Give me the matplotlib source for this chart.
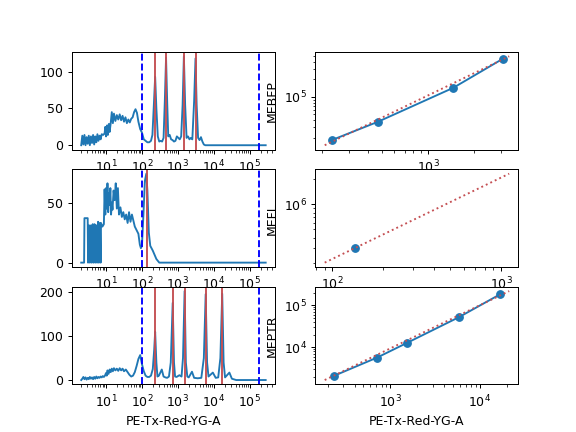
import numpy as np
import matplotlib
matplotlib.use("Agg")
import matplotlib.pyplot as plt

channel = "PE-Tx-Red-YG-A"
mef_names = ["MEBFP", "MEFL", "MEPTR"]

# gate limits (blue dashed)
gate_lo = 100
gate_hi = 1.8e5

# histogram 1 (MEBFP beads): log10 position, counts
h1_logx = [0.31, 0.34, 0.37, 0.40, 0.43, 0.46, 0.49, 0.52, 0.55, 0.58, 0.61, 0.64,
           0.67, 0.70, 0.73, 0.76, 0.79, 0.82, 0.85, 0.88, 0.92, 0.96, 0.98, 1.00,
           1.03, 1.05, 1.08, 1.10, 1.13, 1.16, 1.19, 1.22, 1.26, 1.30, 1.34, 1.38,
           1.42, 1.46, 1.50, 1.54, 1.58, 1.62, 1.66, 1.70, 1.74, 1.78, 1.82, 1.86,
           1.90, 1.95, 2.00, 2.05, 2.10, 2.15, 2.20, 2.25, 2.29, 2.33, 2.366, 2.40,
           2.44, 2.48, 2.52, 2.56, 2.60, 2.635, 2.669, 2.70, 2.73, 2.77, 2.81, 2.85,
           2.89, 2.93, 2.97, 3.01, 3.05, 3.09, 3.13, 3.165, 3.20, 3.24, 3.28, 3.32,
           3.36, 3.40, 3.45, 3.488, 3.52, 3.56, 3.60, 3.64, 3.68, 3.72, 3.76, 4.0,
           4.5, 5.0, 5.44]
h1_counts = [0, 13, 1, 14, 0, 11, 2, 13, 0, 12, 3, 14,
             1, 12, 4, 15, 6, 13, 8, 15, 14, 16, 25, 12,
             27, 14, 29, 18, 30, 45, 30, 43, 33, 41, 35, 42,
             34, 40, 32, 38, 30, 35, 31, 36, 38, 45, 49, 44,
             32, 22, 17, 8, 6, 4, 4, 6, 14, 55, 93, 50,
             12, 5, 6, 5, 10, 60, 119, 60, 12, 14, 8, 7,
             5, 6, 12, 10, 8, 12, 55, 121, 55, 10, 12, 8,
             10, 8, 60, 118, 55, 10, 7, 11, 5, 1, 0, 0,
             0, 0, 0]

# histogram 2 (MEFL beads)
h2_logx = [0.31, 0.39, 0.40, 0.49, 0.50, 0.53, 0.55, 0.58, 0.60, 0.63, 0.65, 0.68,
           0.70, 0.73, 0.75, 0.78, 0.80, 0.83, 0.85, 0.86, 0.90, 0.94, 0.96, 0.98,
           1.00, 1.02, 1.04, 1.06, 1.08, 1.10, 1.12, 1.14, 1.16, 1.18, 1.21, 1.24,
           1.27, 1.30, 1.33, 1.36, 1.40, 1.44, 1.48, 1.52, 1.56, 1.60, 1.64, 1.68,
           1.72, 1.76, 1.80, 1.85, 1.90, 1.94, 1.97, 2.00, 2.04, 2.08, 2.12, 2.15,
           2.19, 2.23, 2.30, 2.40, 2.48, 3.0, 4.0, 5.0, 5.44]
h2_counts = [0, 0, 37, 37, 0, 31, 0, 31, 0, 32, 0, 32,
             0, 31, 0, 34, 0, 33, 0, 33, 30, 32, 61, 40,
             62, 45, 66, 42, 58, 48, 62, 40, 50, 44, 60, 52,
             66, 45, 62, 40, 46, 38, 42, 36, 40, 33, 42, 34,
             40, 35, 30, 27, 24, 15, 12, 15, 40, 68, 74, 60,
             25, 14, 10, 3, 0, 0, 0, 0, 0]

# histogram 3 (MEPTR beads)
h3_logx = [0.31, 0.34, 0.37, 0.40, 0.43, 0.46, 0.49, 0.52, 0.55, 0.58, 0.61, 0.64,
           0.67, 0.70, 0.73, 0.76, 0.79, 0.82, 0.85, 0.88, 0.91, 0.94, 0.97, 1.00,
           1.02, 1.04, 1.07, 1.10, 1.13, 1.16, 1.19, 1.22, 1.26, 1.30, 1.34, 1.38,
           1.42, 1.46, 1.50, 1.55, 1.60, 1.65, 1.70, 1.75, 1.80, 1.85, 1.90, 1.95,
           2.00, 2.05, 2.10, 2.15, 2.20, 2.25, 2.30, 2.34, 2.366, 2.40, 2.43, 2.47,
           2.55, 2.60, 2.65, 2.70, 2.75, 2.80, 2.854, 2.89, 2.92, 2.96, 3.04, 3.10,
           3.14, 3.185, 3.22, 3.26, 3.30, 3.39, 3.45, 3.55, 3.65, 3.72, 3.771, 3.81,
           3.85, 3.97, 4.05, 4.12, 4.18, 4.231, 4.27, 4.31, 4.43, 4.50, 4.62, 5.0,
           5.44]
h3_counts = [0, 3, 7, 2, 6, 1, 5, 2, 7, 3, 6, 2,
             7, 3, 8, 4, 7, 5, 8, 6, 9, 7, 10, 16,
             10, 22, 14, 24, 18, 26, 20, 27, 22, 26, 21, 27,
             22, 26, 20, 24, 18, 12, 8, 10, 18, 32, 48, 57,
             36, 20, 10, 7, 7, 10, 25, 70, 110, 40, 8, 10,
             24, 8, 6, 5, 8, 40, 176, 40, 8, 7, 11, 8,
             50, 203, 40, 8, 6, 19, 5, 4, 5, 50, 196, 40,
             8, 17, 5, 6, 50, 197, 40, 6, 17, 3, 0, 0,
             0]

# bead peaks (red lines) and MEF values
peaks1 = [232, 467, 1460, 3080]
mef1 = [18200, 37500, 143000, 447000]
peaks2 = [137]
mef2 = [296000]
peaks3 = [232, 715, 1530, 5900, 17000]
mef3 = [2090, 5750, 12700, 52500, 183000]

# fitted standard curves (red dotted), end points
fit1_x = [209, 3400]
fit1_y = [14900, 495000]
fit2_x = [90, 1117]
fit2_y = [200000, 2340000]
fit3_x = [185, 21400]
fit3_y = [1680, 217000]

hists = [(h1_logx, h1_counts), (h2_logx, h2_counts), (h3_logx, h3_counts)]
peaks = [peaks1, peaks2, peaks3]
mefs = [mef1, mef2, mef3]
fits = [(fit1_x, fit1_y), (fit2_x, fit2_y), (fit3_x, fit3_y)]

red = "#c44e52"

fig, axes = plt.subplots(3, 2, figsize=(6.4, 4.8))

for i in range(3):
    ax = axes[i, 0]
    lx, cnt = hists[i]
    ax.plot(np.power(10.0, lx), cnt, color="C0", lw=1.5)
    for p in peaks[i]:
        ax.axvline(p, color=red, lw=1.5)
    ax.axvline(gate_lo, color="b", ls="--", lw=1.5)
    ax.axvline(gate_hi, color="b", ls="--", lw=1.5)
    ax.set_xscale("log")

    ax = axes[i, 1]
    ax.plot(peaks[i], mefs[i], "o-", color="C0")
    ax.plot(fits[i][0], fits[i][1], ":", color=red, lw=1.5)
    ax.set_xscale("log")
    ax.set_yscale("log")
    ax.set_ylabel(mef_names[i])

axes[2, 0].set_xlabel(channel)
axes[2, 1].set_xlabel(channel)

plt.savefig("out.png", dpi=90)
